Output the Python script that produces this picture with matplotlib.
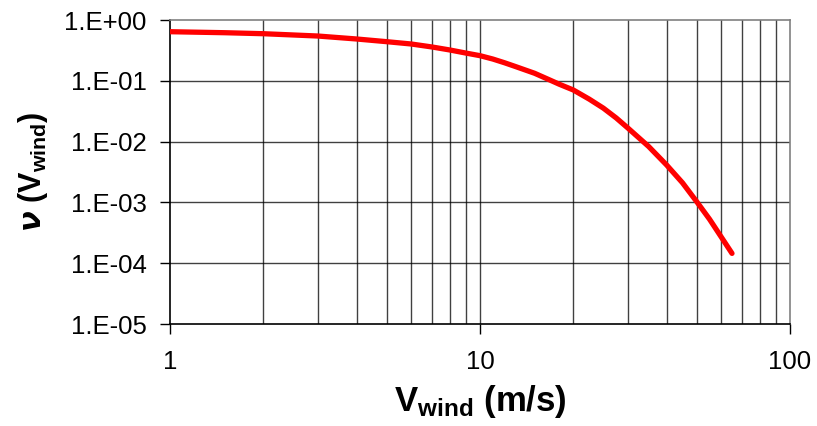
import matplotlib
matplotlib.use("Agg")
import matplotlib.pyplot as plt
from matplotlib.ticker import FixedLocator, FixedFormatter

plt.rcParams['font.family'] = ['Liberation Sans', 'DejaVu Sans']
plt.rcParams['mathtext.fontset'] = 'custom'
plt.rcParams['mathtext.rm'] = 'Liberation Sans'
plt.rcParams['mathtext.bf'] = 'Liberation Sans:bold'
plt.rcParams['mathtext.it'] = 'Liberation Sans:italic'

# data
wind_speed = [1, 1.5, 2, 3, 4, 5, 6, 7, 8, 9, 10, 11, 12, 13, 15, 16.8, 18, 20, 22.5, 25,
              27.5, 30, 35, 40, 45, 50, 55, 60, 65]
nu_values = [0.642, 0.618, 0.595, 0.545, 0.487, 0.44, 0.403, 0.36, 0.321, 0.286, 0.259,
             0.228, 0.198, 0.172, 0.133, 0.103, 0.088, 0.0706, 0.050, 0.0355,
             0.0245, 0.0167, 0.0083, 0.00412, 0.0021, 0.00103, 5.3e-4, 2.7e-4, 1.45e-4]

y_ticks = [1e-5, 1e-4, 1e-3, 1e-2, 1e-1, 1e0]
y_tick_labels = ["1.E-05", "1.E-04", "1.E-03", "1.E-02", "1.E-01", "1.E+00"]
x_ticks = [1, 10, 100]
x_tick_labels = ["1", "10", "100"]
x_grid = [2, 3, 4, 5, 6, 7, 8, 9, 10, 20, 30, 40, 50, 60, 70, 80, 90]

fig = plt.figure(figsize=(8.17, 4.26), dpi=100)
ax = fig.add_axes([170/817, 1-324/426, 620/817, 304/426])

ax.set_xscale('log')
ax.set_yscale('log')
ax.set_xlim(1, 100)
ax.set_ylim(1e-5, 1)

for xv in x_grid:
    ax.axvline(xv, color='#000000', lw=1.0, zorder=1, alpha=0.75)
for yv in y_ticks[1:-1]:
    ax.axhline(yv, color='#000000', lw=1.0, zorder=1, alpha=0.75)

ax.plot(wind_speed, nu_values, color='#ff0000', lw=3.8, zorder=3,
        solid_capstyle='round', solid_joinstyle='round')

ax.yaxis.set_major_locator(FixedLocator(y_ticks))
ax.yaxis.set_major_formatter(FixedFormatter(y_tick_labels))
ax.yaxis.set_minor_locator(FixedLocator([]))
ax.xaxis.set_major_locator(FixedLocator(x_ticks))
ax.xaxis.set_major_formatter(FixedFormatter(x_tick_labels))
ax.xaxis.set_minor_locator(FixedLocator([]))

ax.tick_params(axis='both', which='major', direction='out', length=7, width=1,
               labelsize=18.5, color='black')
ax.tick_params(axis='y', pad=10)
ax.tick_params(axis='x', pad=12)

for side in ['top', 'right']:
    ax.spines[side].set_color('#808080')
    ax.spines[side].set_linewidth(1.2)
for side in ['left', 'bottom']:
    ax.spines[side].set_color('black')
    ax.spines[side].set_linewidth(1.2)

ax.set_xlabel(r'$\mathbf{V_{wind}}$ (m/s)', fontsize=25, fontweight='bold', labelpad=6)
ax.set_ylabel(r'$\boldsymbol{\nu}$ ($\mathbf{V_{wind}}$)', fontsize=22, fontweight='bold', labelpad=10)

fig.savefig('out.png', dpi=100)
